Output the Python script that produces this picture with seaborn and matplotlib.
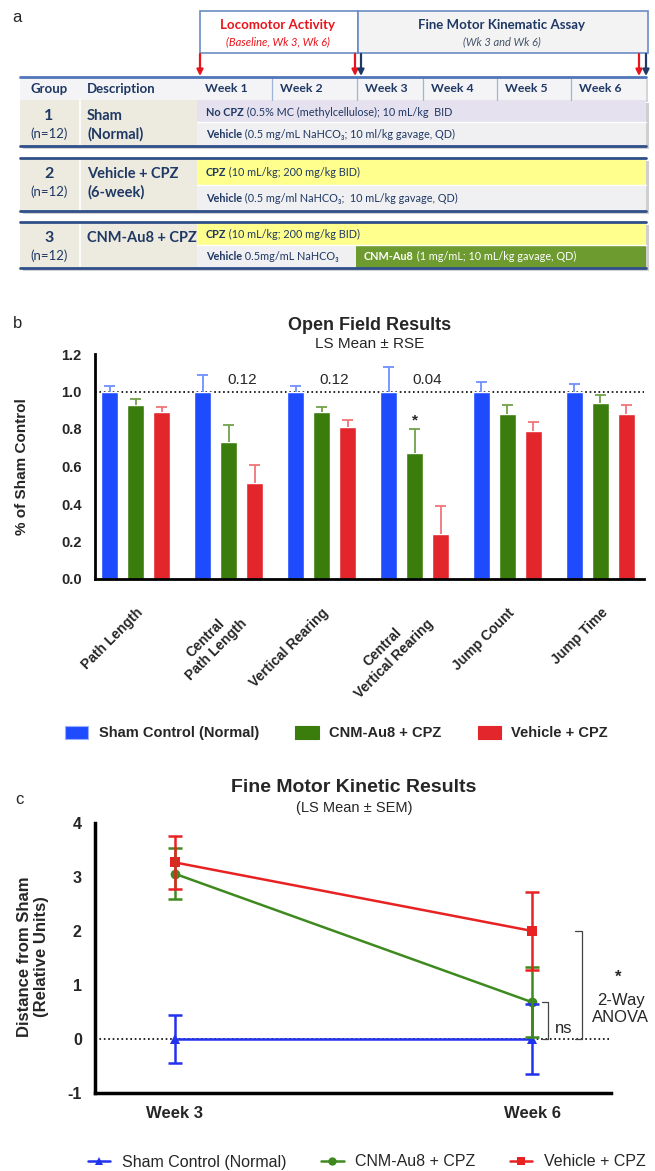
import matplotlib.pyplot as plt
import matplotlib.patches as mpatches
from matplotlib.lines import Line2D
import numpy as np
import pandas as pd
import seaborn as sns

# ---------------- data ----------------
# panel a (study design table)
week_labels = ["Week 1", "Week 2", "Week 3", "Week 4", "Week 5", "Week 6"]
group_ids = ["1", "2", "3"]
group_n = ["(n=12)", "(n=12)", "(n=12)"]
group_desc = ["Sham\n(Normal)", "Vehicle + CPZ\n(6-week)", "CNM-Au8 + CPZ"]
row1_bold = ["No CPZ", "CPZ", "CPZ"]
row1_text = [" (0.5% MC (methylcellulose); 10 mL/kg  BID",
             " (10 mL/kg; 200 mg/kg BID)", " (10 mL/kg; 200 mg/kg BID)"]
row2_bold = ["Vehicle", "Vehicle", "Vehicle"]
row2_text = [" (0.5 mg/mL NaHCO\u2083; 10 ml/kg gavage, QD)",
             " (0.5 mg/ml NaHCO\u2083;  10 mL/kg gavage, QD)",
             " 0.5mg/mL NaHCO\u2083"]
cnm_row_bold = "CNM-Au8"
cnm_row_text = " (1 mg/mL; 10 mL/kg gavage, QD)"

# panel b (open field)
measures = ["Path Length", "Central\nPath Length", "Vertical Rearing",
            "Central\nVertical Rearing", "Jump Count", "Jump Time"]
groups = ["Sham Control (Normal)", "CNM-Au8 + CPZ", "Vehicle + CPZ"]
sham_mean = [1.0, 1.0, 1.0, 1.0, 1.0, 1.0]
sham_err = [0.03, 0.09, 0.03, 0.13, 0.05, 0.04]
cnm_mean = [0.93, 0.73, 0.89, 0.67, 0.88, 0.94]
cnm_err = [0.03, 0.09, 0.03, 0.13, 0.05, 0.04]
veh_mean = [0.89, 0.51, 0.81, 0.24, 0.79, 0.88]
veh_err = [0.03, 0.10, 0.04, 0.15, 0.05, 0.05]
p_labels = ["", "0.12", "0.12", "0.04", "", ""]
star_idx = [3]

# panel c (fine motor kinematics)
weeks = [3, 6]
sham_c = [0.0, 0.0]
sham_c_sem = [0.45, 0.64]
cnm_c = [3.06, 0.68]
cnm_c_sem = [0.47, 0.65]
veh_c = [3.27, 2.00]
veh_c_sem = [0.49, 0.73]

# ---------------- style ----------------
sns.set_theme(style="white")
plt.rcParams["font.family"] = ["Liberation Sans", "DejaVu Sans"]
plt.rcParams["axes.linewidth"] = 2

W, H = 655, 1171
fig = plt.figure(figsize=(W / 100, H / 100), dpi=100)


def px(x, y):
    return x / W, 1 - y / H


navy = "#1F3864"
tfont = ["Lato", "DejaVu Sans"]

# ---------------- panel a ----------------
ax_a = fig.add_axes([0, 1 - 300 / H, 1, 300 / H])
ax_a.set_xlim(0, W)
ax_a.set_ylim(300, 0)
ax_a.axis("off")


def rect(x0, x1, y0, y1, fc, ec="none", lw=0, z=1):
    ax_a.add_patch(mpatches.Rectangle((x0, y0), x1 - x0, y1 - y0, facecolor=fc,
                                      edgecolor=ec, linewidth=lw, zorder=z))


# header boxes
rect(200, 358, 11, 53, "white", "#6A8CC4", 1.2)
rect(358, 648, 11, 53, "#F3F3F3", "#6A8CC4", 1.2)
ax_a.text(278, 25, "Locomotor Activity", color="#E8141B", fontsize=9.5,
          fontweight="bold", ha="center", va="center", family=tfont, zorder=3)
ax_a.text(278, 42, "(Baseline, Wk 3, Wk 6)", color="#E8141B", fontsize=8,
          style="italic", ha="center", va="center", family=tfont, zorder=3)
ax_a.text(502, 25, "Fine Motor Kinematic Assay", color=navy, fontsize=9.5,
          fontweight="bold", ha="center", va="center", family=tfont, zorder=3)
ax_a.text(502, 42, "(Wk 3 and Wk 6)", color="#44546A", fontsize=8,
          style="italic", ha="center", va="center", family=tfont, zorder=3)

for xa, ca in [(200, "#E8141B"), (355, "#E8141B"), (361, navy),
               (639, "#E8141B"), (646, navy)]:
    ax_a.annotate("", xy=(xa, 76), xytext=(xa, 54),
                  arrowprops=dict(arrowstyle="-|>", color=ca, lw=1.6,
                                  mutation_scale=9, shrinkA=0, shrinkB=0))

edges = [197, 272, 357, 423, 497, 571, 646]
L, R = 20, 646

# header row
rect(L + 2, R + 2, 79, 102, "#D5D5D5", z=0.5)
rect(L, R, 77, 100, "#F4F4F6")
ax_a.plot([L, R], [77, 77], color="#4F76B8", lw=2, zorder=4)
ax_a.text(49, 89, "Group", color=navy, fontsize=9.5, fontweight="bold",
          ha="center", va="center", family=tfont, zorder=3)
ax_a.text(87, 89, "Description", color=navy, fontsize=9.5, fontweight="bold",
          ha="left", va="center", family=tfont, zorder=3)
for i, wl in enumerate(week_labels):
    ax_a.text(edges[i] + 8, 89, wl, color=navy, fontsize=8.8, fontweight="bold",
              ha="left", va="center", family=tfont, zorder=3)
for xe in edges[1:-1]:
    ax_a.plot([xe, xe], [77, 100], color="#9FB4D8", lw=0.9, zorder=3)

blocks = [(100, 122, 146), (158, 185, 211), (222, 245, 268)]
row1_colors = ["#E6E1EE", "#FFFF8E", "#FFFF8E"]
for g, (top, mid, bot) in enumerate(blocks):
    rect(L + 3, R + 3, top + 3, bot + 3, "#CFCFCF", z=0.5)
    rect(L, edges[0], top, bot, "#EDEBE0")
    ax_a.plot([80, 80], [top, bot], color="white", lw=1.2, zorder=2)
    rect(edges[0], R, top, mid, row1_colors[g])
    if g < 2:
        rect(edges[0], R, mid, bot, "#F0F0F2")
    else:
        rect(edges[0], 356, mid, bot, "#F0F0F2")
        rect(356, R, mid, bot, "#6E9B2F")
    ax_a.plot([edges[0], R], [mid, mid], color="white", lw=1, zorder=2)
    ax_a.plot([L, R], [bot, bot], color="#2F4F8A", lw=2, zorder=4)
    if g > 0:
        ax_a.plot([L, R], [top, top], color="#2F4F8A", lw=2, zorder=4)

    ax_a.text(49, top + 16, group_ids[g], color=navy, fontsize=11.5,
              fontweight="bold", ha="center", va="center", family=tfont, zorder=3)
    ax_a.text(49, top + 34, group_n[g], color=navy, fontsize=9.5,
              ha="center", va="center", family=tfont, zorder=3)
    lines = group_desc[g].split("\n")
    ax_a.text(87, top + 16, lines[0], color=navy, fontsize=10.5, fontweight="bold",
              ha="left", va="center", family=tfont, zorder=3)
    if len(lines) > 1:
        ax_a.text(87, top + 34, lines[1], color=navy, fontsize=10.5,
                  fontweight="bold", ha="left", va="center", family=tfont, zorder=3)

    # row texts: bold word then normal remainder
    t1 = ax_a.text(206, (top + mid) / 2 + 1, row1_bold[g], color=navy, fontsize=7.8,
                   fontweight="bold", ha="left", va="center", family=tfont, zorder=3)
    ax_a.annotate(row1_text[g], xycoords=t1, xy=(1, 0.5), va="center",
                  color=navy, fontsize=7.8, family=tfont, zorder=3)
    t2 = ax_a.text(206, (mid + bot) / 2, row2_bold[g], color=navy, fontsize=7.8,
                   fontweight="bold", ha="left", va="center", family=tfont, zorder=3)
    ax_a.annotate(row2_text[g], xycoords=t2, xy=(1, 0.5), va="center",
                  color=navy, fontsize=7.8, family=tfont, zorder=3)
    if g == 2:
        t3 = ax_a.text(364, (mid + bot) / 2, cnm_row_bold, color="white",
                       fontsize=7.8, fontweight="bold", ha="left", va="center",
                       family=tfont, zorder=3)
        ax_a.annotate(cnm_row_text, xycoords=t3, xy=(1, 0.5), va="center",
                      color="white", fontsize=7.8, family=tfont, zorder=3)

ax_a.text(17, 18, "a", fontsize=12, ha="center", va="center")

# ---------------- panel b ----------------
bar_colors = ["#1F4BFF", "#3B7D0C", "#E2262B"]
err_colors = ["#7090FF", "#6FA24A", "#F07478"]

df_b = pd.DataFrame({
    "measure": measures * 3,
    "group": np.repeat(groups, len(measures)),
    "value": sham_mean + cnm_mean + veh_mean,
})
errs_b = [sham_err, cnm_err, veh_err]

ax_b = fig.add_axes([95 / W, 1 - 579 / H, (644 - 95) / W, (579 - 354) / H])
sns.barplot(data=df_b, x="measure", y="value", hue="group", palette=bar_colors,
            width=0.84, gap=0.34, errorbar=None, legend=False, ax=ax_b,
            saturation=1, zorder=2)

for cont, errs, ec in zip(ax_b.containers, errs_b, err_colors):
    for bar, e in zip(cont, errs):
        xc = bar.get_x() + bar.get_width() / 2
        top = bar.get_height()
        ax_b.vlines(xc, top, top + e, color=ec, lw=1.3, zorder=3)
        ax_b.hlines(top + e, xc - 0.06, xc + 0.06, color=ec, lw=1.3, zorder=3)

ax_b.axhline(1.0, color="black", ls=":", lw=1.2, zorder=1)
for i, lab in enumerate(p_labels):
    if lab:
        ax_b.text(i + 0.14, 1.06, lab, ha="center", va="center", fontsize=11)
for i in star_idx:
    ax_b.text(i, 0.845, "*", ha="center", va="center", fontsize=11, fontweight="bold")

ax_b.set_xlim(-0.44, 5.47)
ax_b.set_ylim(0, 1.2)
ax_b.set_yticks(np.arange(0, 1.21, 0.2))
ax_b.set_yticklabels([f"{v:.1f}" for v in np.arange(0, 1.21, 0.2)],
                     fontweight="bold", fontsize=10.5)
ax_b.set_xticks(range(len(measures)))
ax_b.set_xticklabels(measures, rotation=45, ha="right", va="top",
                     rotation_mode="anchor", fontweight="bold", fontsize=10,
                     multialignment="center")
ax_b.tick_params(axis="both", length=6, width=2, color="black", direction="out")
ax_b.tick_params(axis="x", pad=13)
ax_b.set_xlabel("")
ax_b.set_ylabel("")
sns.despine(ax=ax_b)
for s in ["left", "bottom"]:
    ax_b.spines[s].set_linewidth(2)
    ax_b.spines[s].set_color("black")

fig.text(*px(370, 325), "Open Field Results", fontsize=13, fontweight="bold",
         ha="center", va="center")
fig.text(*px(370, 344), "LS Mean \u00b1 RSE", fontsize=11, ha="center", va="center")
fig.text(*px(22, 467), "% of Sham Control", fontsize=11, fontweight="bold",
         rotation=90, ha="center", va="center")
fig.text(*px(18, 323), "b", fontsize=12, ha="center", va="center")

handles_b = [mpatches.Patch(facecolor=c, edgecolor="#9AB0FF" if i == 0 else c,
                            lw=0.8) for i, c in enumerate(bar_colors)]
fig.legend(handles_b, groups, loc="center left", bbox_to_anchor=px(65, 733),
           ncol=3, frameon=False, borderpad=0, borderaxespad=0,
           prop=dict(weight="bold", size=10.5), handlelength=1.6,
           handleheight=1.0, handletextpad=0.7, columnspacing=2.5)

# ---------------- panel c ----------------
line_colors = ["#2233EE", "#3E8A1E", "#E82222"]
markers = ["^", "o", "s"]
df_c = pd.DataFrame({
    "week": weeks * 3,
    "group": np.repeat(groups, len(weeks)),
    "value": sham_c + cnm_c + veh_c,
})
sems_c = [sham_c_sem, cnm_c_sem, veh_c_sem]

ax_c = fig.add_axes([95 / W, 1 - 1093 / H, (611 - 95) / W, (1093 - 823) / H])
ax_c.axhline(0, color="black", ls=":", lw=1.2, zorder=1)
sns.lineplot(data=df_c, x="week", y="value", hue="group", style="group",
             markers=markers, dashes=False, palette=line_colors, lw=1.8,
             markersize=7, markeredgewidth=0, legend=False, ax=ax_c, zorder=3)
for gname, sem, col in zip(groups, sems_c, line_colors):
    sub = df_c[df_c["group"] == gname]
    ax_c.errorbar(sub["week"], sub["value"], yerr=sem, fmt="none", ecolor=col,
                  elinewidth=1.8, capsize=5, capthick=1.8, zorder=3)

# significance brackets
ax_c.plot([6.08, 6.13, 6.13, 6.08], [cnm_c[1], cnm_c[1], 0, 0], color="#444444",
          lw=0.9, clip_on=False)
ax_c.plot([6.36, 6.42, 6.42, 6.36], [veh_c[1], veh_c[1], 0, 0], color="#444444",
          lw=0.9, clip_on=False)
ax_c.text(6.26, 0.2, "ns", ha="center", va="center", fontsize=12)
ax_c.text(6.72, 1.15, "*", ha="center", va="center", fontsize=12, fontweight="bold",
          clip_on=False)
ax_c.text(6.74, 0.56, "2-Way\nANOVA", ha="center", va="center", fontsize=12,
          linespacing=1.2, clip_on=False)

ax_c.set_xlim(2.33, 6.66)
ax_c.set_ylim(-1, 4)
ax_c.set_xticks([3, 4, 5, 6])
ax_c.set_xticklabels(["Week 3", "", "", "Week 6"], fontweight="bold", fontsize=12)
ax_c.set_yticks(range(-1, 5))
ax_c.set_yticklabels([str(v) for v in range(-1, 5)], fontweight="bold", fontsize=11.5)
ax_c.tick_params(axis="both", length=6, width=2, color="black", direction="out")
ax_c.tick_params(axis="x", pad=3)
ax_c.set_xlabel("")
ax_c.set_ylabel("")
sns.despine(ax=ax_c)
for s in ["left", "bottom"]:
    ax_c.spines[s].set_linewidth(2.5)
    ax_c.spines[s].set_color("black")

fig.text(*px(354, 787), "Fine Motor Kinetic Results", fontsize=14,
         fontweight="bold", ha="center", va="center")
fig.text(*px(354, 808), "(LS Mean \u00b1 SEM)", fontsize=10.5, ha="center",
         va="center")
fig.text(*px(33, 957), "Distance from Sham\n(Relative Units)", fontsize=12,
         fontweight="bold", rotation=90, ha="center", va="center", linespacing=1.1)
fig.text(*px(19, 800), "c", fontsize=12, ha="center", va="center")

handles_c = [Line2D([0], [0], color=c, marker=m, lw=1.8, markersize=6,
                    markeredgewidth=0) for c, m in zip(line_colors, markers)]
fig.legend(handles_c, groups, loc="center left", bbox_to_anchor=px(88, 1162),
           ncol=3, frameon=False, borderpad=0, borderaxespad=0,
           prop=dict(size=11.5), handlelength=1.4, handletextpad=0.7,
           columnspacing=2.2)

fig.savefig("out.png", dpi=100)
